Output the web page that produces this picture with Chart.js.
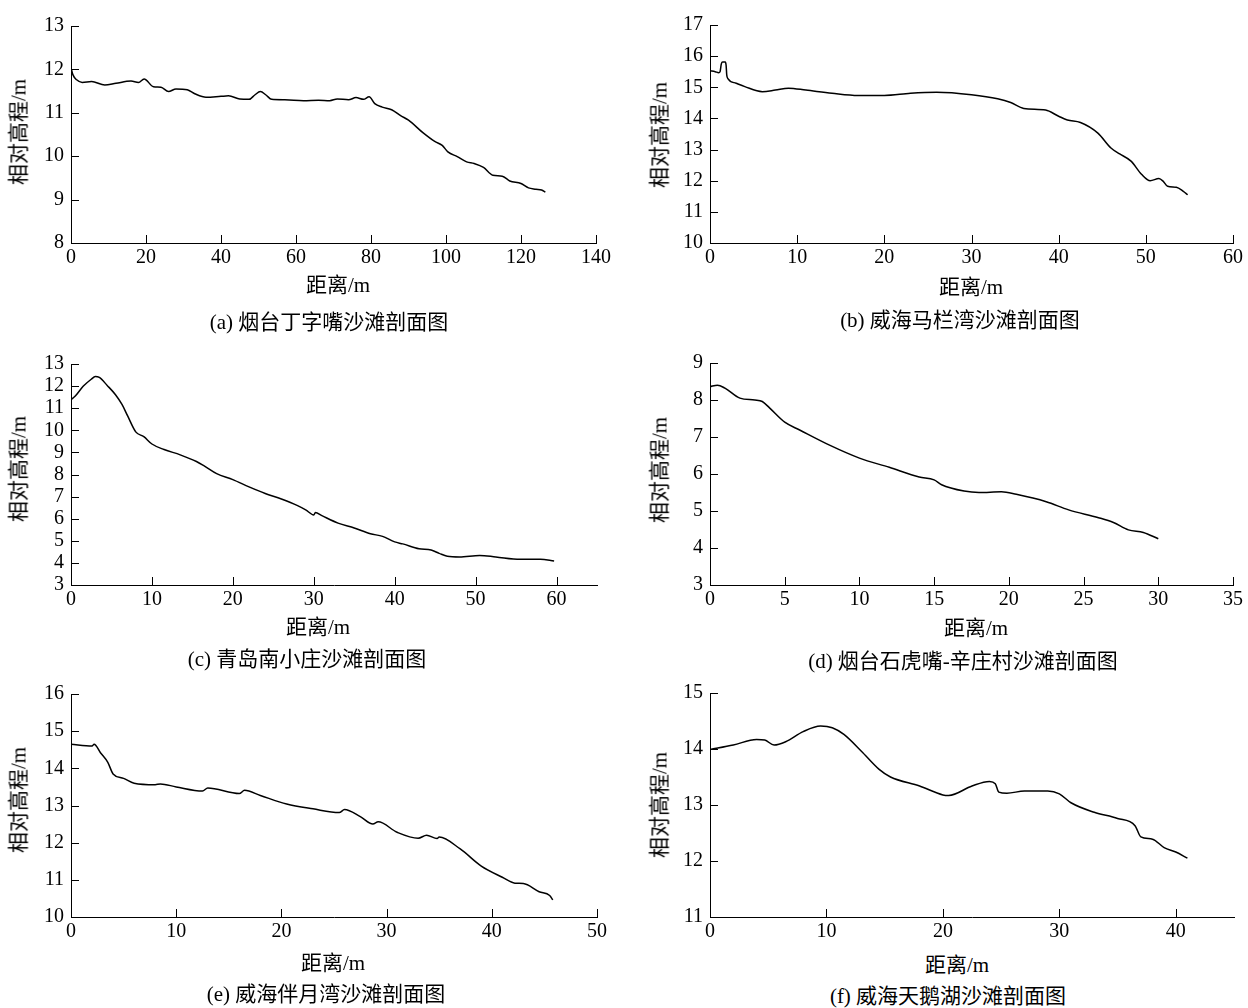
<!DOCTYPE html>
<html>
<head>
<meta charset="utf-8">
<script src="https://cdn.jsdelivr.net/npm/chart.js@4.4.0/dist/chart.umd.min.js"></script>
<style>
    body {
        margin: 0;
        background: #fff;
        width: 1248px;
        height: 1008px;
        position: relative;
        overflow: hidden;
        font-family: 'Liberation Serif', 'Noto Sans CJK SC', serif;
        color: #000;
    }
    canvas { position: absolute; }
    .lbl {
        position: absolute;
        white-space: nowrap;
        transform: translate(-50%, -50%);
        font-size: 21px;
        line-height: 1;
    }
    .ytitle { transform: translate(-50%, -50%) rotate(-90deg); }
    .cap { font-size: 21px; }
</style>
</head>
<body>
<script>
// (a) 烟台丁字嘴
const distA = [0, 0.5, 1.5, 3, 5.5, 9, 12, 16, 18, 19.5, 22, 24, 26, 28, 31, 33, 36, 40, 42, 45, 47.5, 49, 50.5, 52, 53.5, 57, 62, 66, 69, 71, 74, 76, 78, 79.5, 81, 83, 85.5, 88, 90, 94, 97, 99, 100.5, 103, 105.5, 107.5, 110, 112.5, 115, 117, 120, 122, 124, 125.5, 126.5]
const elevA = [12.04, 11.88, 11.76, 11.70, 11.72, 11.64, 11.68, 11.73, 11.70, 11.78, 11.60, 11.59, 11.49, 11.55, 11.53, 11.44, 11.36, 11.38, 11.39, 11.32, 11.31, 11.41, 11.49, 11.41, 11.31, 11.30, 11.28, 11.29, 11.28, 11.32, 11.30, 11.35, 11.31, 11.37, 11.21, 11.13, 11.07, 10.93, 10.83, 10.53, 10.34, 10.25, 10.10, 9.99, 9.87, 9.83, 9.74, 9.56, 9.54, 9.43, 9.37, 9.27, 9.24, 9.22, 9.17]

// (b) 威海马栏湾
const distB = [0, 0.6, 1.0, 1.15, 1.3, 1.45, 1.75, 1.85, 1.92, 2.05, 3, 4, 6, 7.5, 9, 11, 14, 17, 20, 23, 26, 30, 33, 34.5, 36, 38.5, 40, 41, 42.5, 44.5, 46, 47, 48.3, 49.5, 50.5, 51.5, 52, 52.5, 53.5, 54.3, 54.8]
const elevB = [15.53, 15.50, 15.47, 15.50, 15.75, 15.81, 15.81, 15.70, 15.40, 15.28, 15.13, 15.02, 14.86, 14.91, 14.97, 14.91, 14.81, 14.74, 14.74, 14.81, 14.84, 14.76, 14.63, 14.51, 14.32, 14.27, 14.07, 13.95, 13.87, 13.53, 13.05, 12.86, 12.63, 12.21, 12.00, 12.07, 11.98, 11.82, 11.79, 11.66, 11.55]

// (c) 青岛南小庄
const distC = [0, 0.5, 1.5, 2.5, 3, 3.5, 4.5, 5.5, 6.3, 7, 8, 9, 10, 11.5, 13.5, 15.5, 16.5, 18, 20, 22, 24, 26, 28, 29, 30, 30.2, 31, 33, 35, 37, 38.5, 40, 41, 43, 44.5, 45.5, 46.5, 48, 50.5, 52.5, 55.5, 58, 59.7]
const elevC = [11.39, 11.54, 11.99, 12.31, 12.43, 12.39, 12.02, 11.61, 11.17, 10.65, 9.93, 9.71, 9.38, 9.13, 8.89, 8.59, 8.38, 8.04, 7.77, 7.44, 7.14, 6.89, 6.59, 6.40, 6.17, 6.28, 6.14, 5.80, 5.58, 5.32, 5.20, 4.95, 4.86, 4.64, 4.58, 4.43, 4.30, 4.27, 4.34, 4.27, 4.16, 4.16, 4.09]

// (d) 烟台石虎嘴-辛庄村
const distD = [0, 0.5, 1, 2, 3, 3.5, 4, 5, 6, 8, 10, 12, 14, 15, 15.5, 17, 18, 19.5, 20.5, 22.5, 24, 26, 27, 28, 29, 30]
const elevD = [8.36, 8.40, 8.32, 8.05, 8.00, 7.96, 7.78, 7.40, 7.19, 6.78, 6.43, 6.18, 5.92, 5.84, 5.71, 5.54, 5.50, 5.52, 5.45, 5.25, 5.03, 4.82, 4.69, 4.49, 4.42, 4.25]

// (e) 威海伴月湾
const distE = [0, 2, 2.2, 2.8, 3.5, 4, 5, 6, 8, 8.5, 10, 12.5, 13, 16, 16.5, 18, 20.5, 23, 25.5, 26, 27.5, 28.7, 29.2, 31, 33, 33.8, 34.8, 35, 37, 39, 41, 42.2, 43, 44.5, 45.5, 45.8]
const elevE = [14.65, 14.60, 14.65, 14.42, 14.16, 13.85, 13.73, 13.60, 13.56, 13.58, 13.50, 13.39, 13.47, 13.32, 13.41, 13.27, 13.04, 12.91, 12.81, 12.89, 12.70, 12.50, 12.56, 12.28, 12.12, 12.20, 12.11, 12.15, 11.83, 11.37, 11.07, 10.91, 10.90, 10.68, 10.58, 10.46]

// (f) 威海天鹅湖
const distF = [0, 2, 4, 4.7, 5.5, 6.5, 8, 9.5, 10.5, 11.5, 13, 14.5, 15.5, 18, 20, 20.5, 22.5, 24, 24.5, 24.8, 25.5, 27, 29, 30, 31, 33, 35, 36.5, 37, 38, 39, 40, 41]
const elevF = [13.99, 14.07, 14.17, 14.16, 14.07, 14.13, 14.31, 14.41, 14.38, 14.26, 13.96, 13.64, 13.50, 13.34, 13.18, 13.17, 13.34, 13.42, 13.38, 13.23, 13.21, 13.25, 13.25, 13.20, 13.04, 12.87, 12.76, 12.63, 12.43, 12.39, 12.24, 12.16, 12.05]

// axis ranges: [min, max, step]
const xRangeA = [0, 140, 20], yRangeA = [8, 13, 1]
const xRangeB = [0, 60, 10], yRangeB = [10, 17, 1]
const xRangeC = [0, 65, 10], yRangeC = [3, 13, 1]
const xRangeD = [0, 35, 5], yRangeD = [3, 9, 1]
const xRangeE = [0, 50, 10], yRangeE = [10, 16, 1]
const xRangeF = [0, 45, 10], yRangeF = [11, 15, 1]

const captions = [
    '(a) 烟台丁字嘴沙滩剖面图',
    '(b) 威海马栏湾沙滩剖面图',
    '(c) 青岛南小庄沙滩剖面图',
    '(d) 烟台石虎嘴-辛庄村沙滩剖面图',
    '(e) 威海伴月湾沙滩剖面图',
    '(f) 威海天鹅湖沙滩剖面图',
]
const xTitle = '距离/m'
const yTitle = '相对高程/m'

// plot boxes and label spots, in page pixels
const panels = [
    { dist: distA, elev: elevA, xr: xRangeA, yr: yRangeA, box: [71, 22, 525, 221], xt: [338, 285], yt: [19, 132], cap: [329, 322] },
    { dist: distB, elev: elevB, xr: xRangeB, yr: yRangeB, box: [710, 21, 523, 222], xt: [971, 287], yt: [660, 135], cap: [960, 320] },
    { dist: distC, elev: elevC, xr: xRangeC, yr: yRangeC, box: [71, 360, 526, 225], xt: [318, 627], yt: [19, 469], cap: [307, 659] },
    { dist: distD, elev: elevD, xr: xRangeD, yr: yRangeD, box: [710, 359, 523, 226], xt: [976, 628], yt: [660, 470], cap: [963, 661] },
    { dist: distE, elev: elevE, xr: xRangeE, yr: yRangeE, box: [71, 690, 526, 227], xt: [333, 963], yt: [19, 800], cap: [326, 994] },
    { dist: distF, elev: elevF, xr: xRangeF, yr: yRangeF, box: [710, 689, 524, 228], xt: [957, 965], yt: [660, 805], cap: [948, 996] },
]

const Y_W = 60, X_H = 35, PAD_T = 15, PAD_R = 20

// tick marks pointing into the plot
const inwardTicks = {
    id: 'inwardTicks',
    afterDraw(chart) {
        const { ctx, chartArea: a } = chart
        const { x, y } = chart.scales
        ctx.save()
        ctx.strokeStyle = '#000'
        ctx.lineWidth = 1
        ctx.beginPath()
        x.ticks.forEach(t => {
            const px = Math.round(x.getPixelForValue(t.value)) + 0.5
            ctx.moveTo(px, a.bottom)
            ctx.lineTo(px, a.bottom - 8)
        })
        y.ticks.forEach(t => {
            const py = Math.round(y.getPixelForValue(t.value)) + 0.5
            ctx.moveTo(a.left, py)
            ctx.lineTo(a.left + 8, py)
        })
        ctx.stroke()
        ctx.restore()
    },
}

const addLabel = (text, pos, cls) => {
    const d = document.createElement('div')
    d.className = 'lbl ' + cls
    d.textContent = text
    d.style.left = pos[0] + 'px'
    d.style.top = pos[1] + 'px'
    document.body.appendChild(d)
}

const tickFont = { family: 'Liberation Serif', size: 20 }

panels.forEach((p, i) => {
    const [left, top, w, h] = p.box
    const cv = document.createElement('canvas')
    const cw = w + Y_W + PAD_R
    const ch = h + PAD_T + X_H
    cv.width = cw
    cv.height = ch
    cv.style.width = cw + 'px'
    cv.style.height = ch + 'px'
    cv.style.left = (left - Y_W) + 'px'
    cv.style.top = (top - PAD_T) + 'px'
    document.body.appendChild(cv)

    new Chart(cv.getContext('2d'), {
        type: 'line',
        data: {
            datasets: [{
                data: p.dist.map((d, k) => ({ x: d, y: p.elev[k] })),
                borderColor: '#000',
                borderWidth: 1.5,
                pointRadius: 0,
                fill: false,
                cubicInterpolationMode: 'monotone',
            }],
        },
        options: {
            responsive: false,
            animation: false,
            layout: { padding: { top: PAD_T, right: PAD_R, left: 0, bottom: 0 } },
            plugins: { legend: { display: false }, tooltip: { enabled: false } },
            scales: {
                x: {
                    type: 'linear',
                    min: p.xr[0],
                    max: p.xr[1],
                    ticks: {
                        stepSize: p.xr[2],
                        includeBounds: false,
                        autoSkip: false,
                        maxRotation: 0,
                        padding: 3,
                        color: '#000',
                        font: tickFont,
                    },
                    grid: { drawOnChartArea: false, drawTicks: false },
                    border: { display: true, color: '#000', width: 1 },
                    afterFit(s) { s.height = X_H },
                },
                y: {
                    min: p.yr[0],
                    max: p.yr[1],
                    ticks: {
                        stepSize: p.yr[2],
                        includeBounds: false,
                        autoSkip: false,
                        padding: 7,
                        color: '#000',
                        font: tickFont,
                    },
                    grid: { drawOnChartArea: false, drawTicks: false },
                    border: { display: true, color: '#000', width: 1 },
                    afterFit(s) { s.width = Y_W },
                },
            },
        },
        plugins: [inwardTicks],
    })

    addLabel(xTitle, p.xt, '')
    addLabel(yTitle, p.yt, 'ytitle')
    addLabel(captions[i], p.cap, 'cap')
})
</script>
</body>
</html>
